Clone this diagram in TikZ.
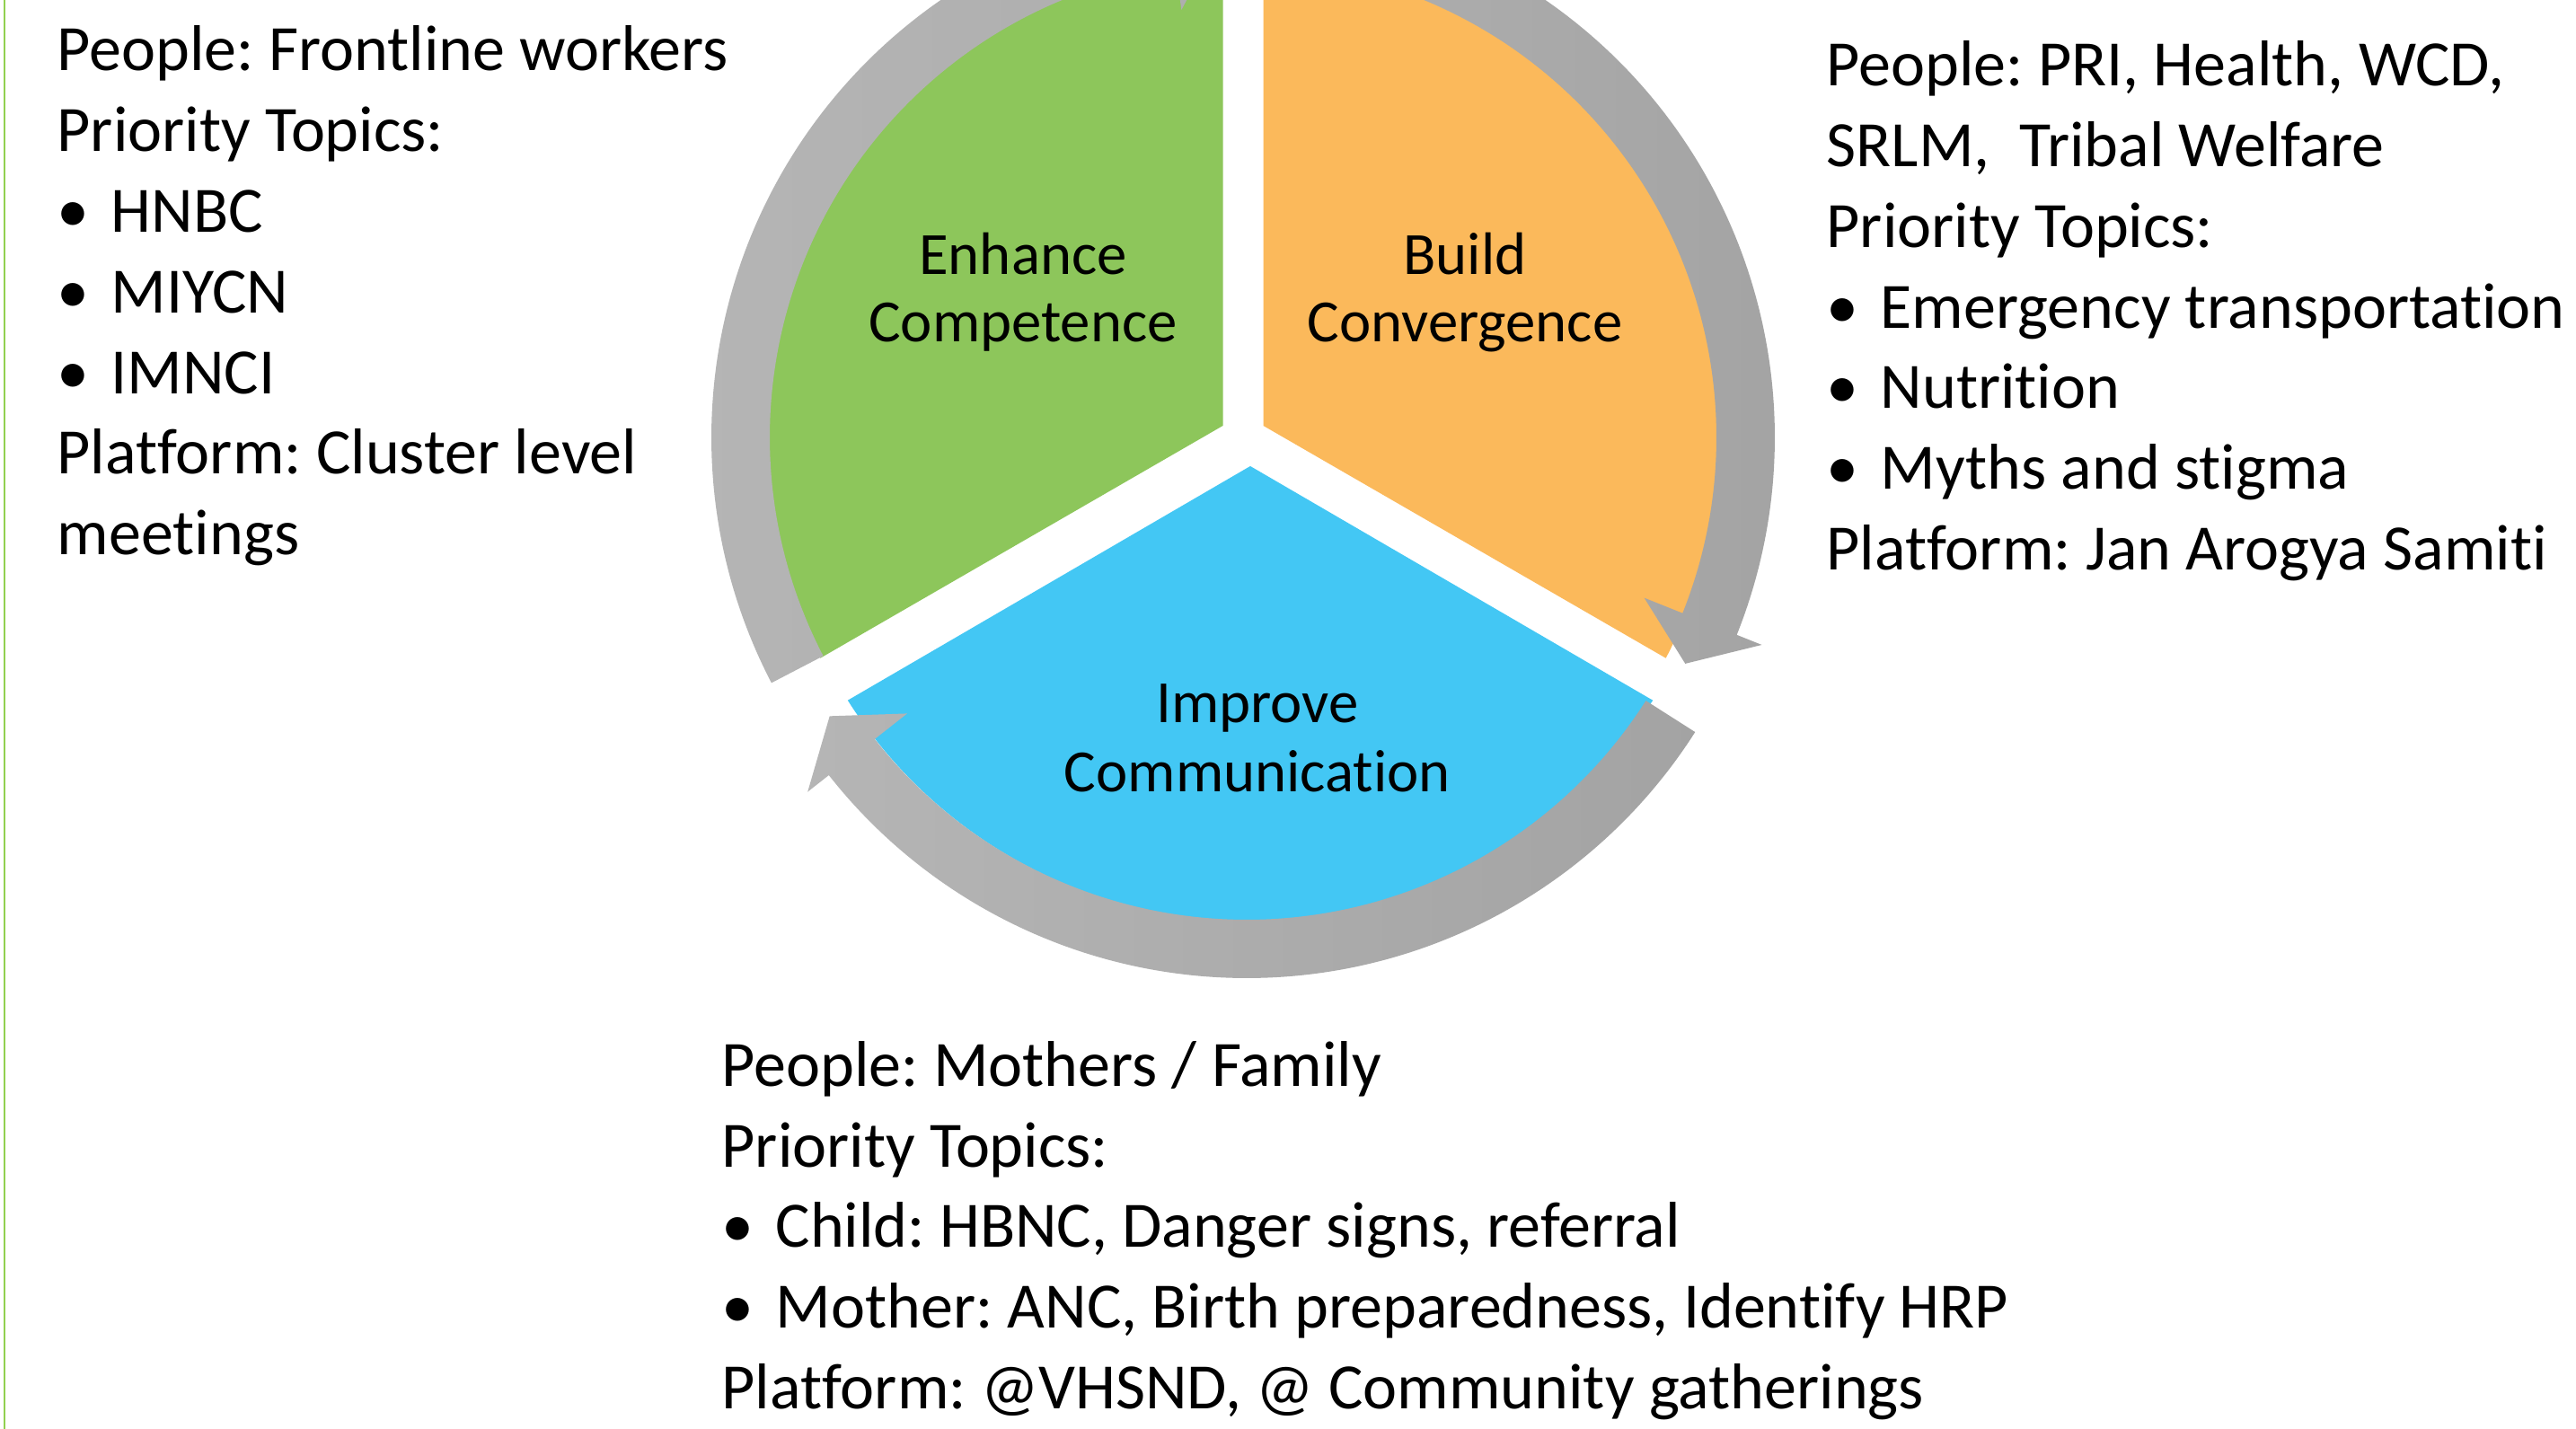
\documentclass[tikz,border=0pt]{standalone}
\usepackage{fontspec}
\setmainfont{Carlito}[Ligatures=NoCommon]
\definecolor{segGreen}{HTML}{8DC65B}
\definecolor{segOrange}{HTML}{FBB95B}
\definecolor{segBlue}{HTML}{43C7F4}
\definecolor{edgeGreen}{HTML}{92D050}
\newcommand\cycarrow[4]{%
  \pgfmathsetmacro\aT{#1}%
  \pgfmathsetmacro\aB{#1-109.3}%
  \pgfmathsetmacro\aP{#1-114.6}%
  \shade[left color=#2, right color=#3, shift={(#4)}]
    (\aT:5.92) arc[start angle=\aT, end angle=\aB, radius=5.92]
    -- (\aB:6.22) -- (\aP:5.53) -- (\aB:4.81) -- (\aB:5.27)
    arc[start angle=\aB, end angle=\aT, radius=5.27] -- cycle;
}
\begin{document}
\frenchspacing
\begin{tikzpicture}[x=1cm,y=1cm,
  body/.style={anchor=base west, inner sep=0pt, font=\fontsize{20.5}{24}\selectfont},
  seclab/.style={anchor=base, inner sep=0pt, font=\fontsize{19}{22}\selectfont}]
\useasboundingbox (0,0) rectangle (28.68,15.91);
\fill[white] (0,0) rectangle (28.68,15.91);
\draw[edgeGreen, line width=0.6pt] (0.05,0) -- (0.05,15.91);

\coordinate (C) at (13.84,11.04);
\coordinate (Cb) at (13.92,10.96);
\coordinate (Ca) at (13.88,10.94);

% segments
\fill[segGreen, shift={(C)}] (-0.225,0.13) -- (92.43:5.31)
   arc[start angle=92.43, end angle=207.57, radius=5.31] -- cycle;
\fill[segOrange, shift={(C)}] (0.225,0.13) -- (87.57:5.31)
   arc[start angle=87.57, end angle=-27.57, radius=5.31] -- cycle;
\fill[segBlue, shift={(Cb)}] (0,-0.24) -- (-32.43:5.31)
   arc[start angle=-32.43, end angle=-147.57, radius=5.31] -- cycle;

% circular arrows
\cycarrow{87.5}{gray!62}{gray!72}{C}
\cycarrow{-32.5}{gray!58}{gray!72}{Ca}
\cycarrow{207.5}{gray!58}{gray!64}{C}

% segment labels
\node[seclab] (e1) at (11.39,12.85) {Enhance};
\node[seclab] (e2) at (11.39,12.10) {Competence};
\node[seclab] (b1) at (16.31,12.85) {Build};
\node[seclab] (b2) at (16.31,12.10) {Convergence};
\node[seclab] (i1) at (14.00,7.86) {Improve};
\node[seclab] (i2) at (14.00,7.09) {Communication};

% left block
\node[body] (l1) at (0.63,15.12) {People: Frontline workers};
\node[body] (l2) at (0.63,14.222) {Priority Topics:};
\node[body] (l3) at (0.63,13.324) {\makebox[0.6cm][l]{•}HNBC};
\node[body] (l4) at (0.63,12.426) {\makebox[0.6cm][l]{•}MIYCN};
\node[body] (l5) at (0.63,11.528) {\makebox[0.6cm][l]{•}IMNCI};
\node[body] (l6) at (0.63,10.63) {Platform: Cluster level};
\node[body] (l7) at (0.63,9.732) {meetings};

% right block
\node[body] (r1) at (20.33,14.95) {People: PRI, Health, WCD,};
\node[body] (r2) at (20.33,14.053) {SRLM,\ \ Tribal Welfare};
\node[body] (r3) at (20.33,13.156) {Priority Topics:};
\node[body] (r4) at (20.33,12.259) {\makebox[0.6cm][l]{•}Emergency transportation};
\node[body] (r5) at (20.33,11.362) {\makebox[0.6cm][l]{•}Nutrition};
\node[body] (r6) at (20.33,10.465) {\makebox[0.6cm][l]{•}Myths and stigma};
\node[body] (r7) at (20.33,9.568) {Platform: Jan Arogya Samiti};

% bottom block
\node[body] (m1) at (8.03,3.815) {People: Mothers / Family};
\node[body] (m2) at (8.03,2.918) {Priority Topics:};
\node[body] (m3) at (8.03,2.021) {\makebox[0.6cm][l]{•}Child: HBNC, Danger signs, referral};
\node[body] (m4) at (8.03,1.124) {\makebox[0.6cm][l]{•}Mother: ANC, Birth preparedness, Identify HRP};
\node[body] (m5) at (8.03,0.227) {Platform: @VHSND, @ Community gatherings};
\end{tikzpicture}
\end{document}
